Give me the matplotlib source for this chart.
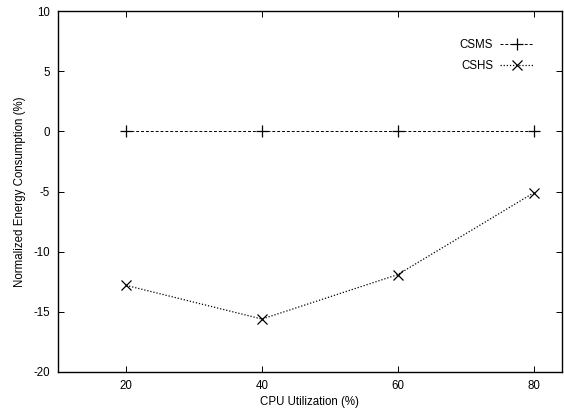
import matplotlib
matplotlib.use('Agg')
import matplotlib.pyplot as plt

plt.rcParams['font.family'] = ['Liberation Sans', 'DejaVu Sans']
plt.rcParams['font.size'] = 8.3
plt.rcParams['axes.unicode_minus'] = False

cpu = [20, 40, 60, 80]
csms = [0, 0, 0, 0]
cshs = [-12.8, -15.6, -11.9, -5.1]

fig = plt.figure(figsize=(5.64, 4.09), dpi=100)
ax = fig.add_axes([0.103, 0.0905, 0.893, 0.8825])

ax.plot(cpu, csms, color='black', linestyle=(0, (3, 2)), linewidth=0.7,
        marker='+', markersize=8, markeredgewidth=0.9, label='CSMS')
ax.plot(cpu, cshs, color='black', linestyle=(0, (1, 1.5)), linewidth=0.9,
        marker='x', markersize=7, markeredgewidth=0.9, label='CSHS')

ax.set_xlim(10, 84.1)
ax.set_ylim(-20, 10)
ax.set_xticks(cpu)
ax.set_yticks([-20, -15, -10, -5, 0, 5, 10])
ax.tick_params(direction='in', top=True, right=True, length=4.5, width=0.7, pad=6)
for s in ax.spines.values():
    s.set_linewidth(1.0)

ax.set_xlabel('CPU Utilization (%)', labelpad=3)
ax.set_ylabel('Normalized Energy Consumption (%)', labelpad=5)

leg = ax.legend(loc='upper right', bbox_to_anchor=(0.955, 0.935), frameon=False,
                markerfirst=False, handlelength=3.0, handletextpad=0.6,
                labelspacing=0.75, borderaxespad=0)

fig.savefig('out.png', dpi=100)
